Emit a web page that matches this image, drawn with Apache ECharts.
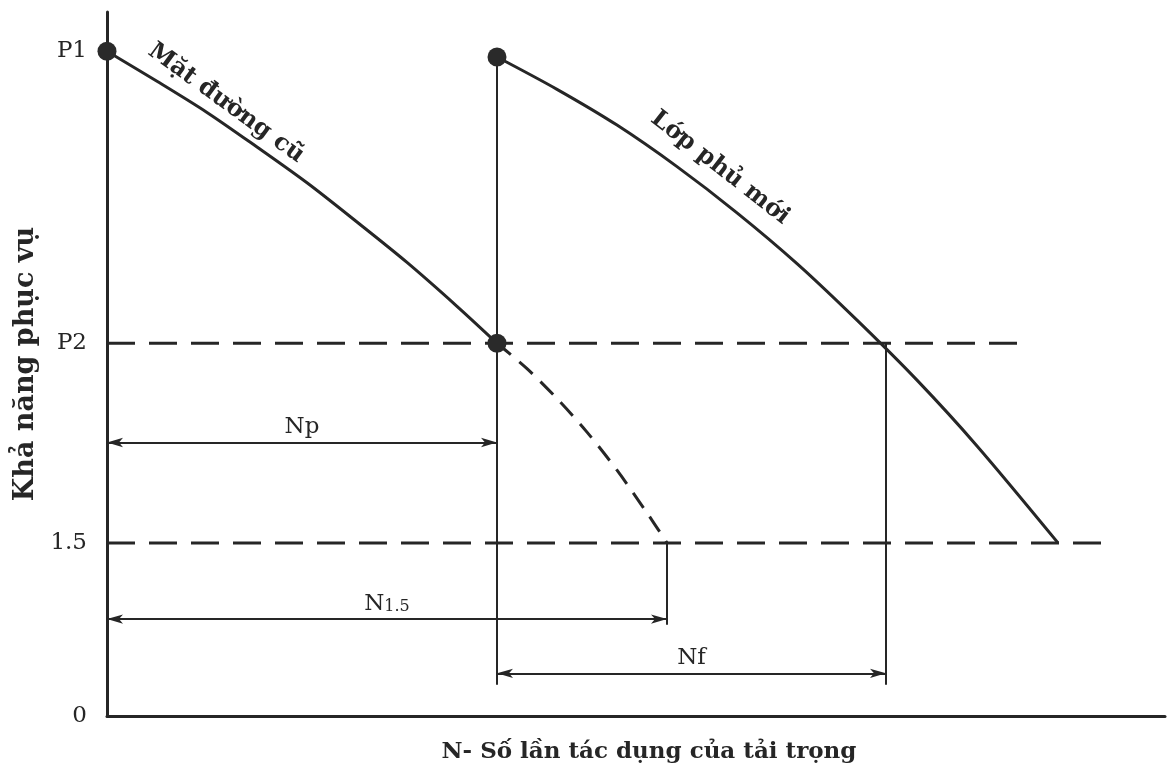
<!DOCTYPE html>
<html>
<head>
    <meta charset="utf-8">
    <title>Khả năng phục vụ</title>
    <script src="https://cdn.jsdelivr.net/npm/echarts@6/dist/echarts.min.js"></script>
</head>
<body style="margin:0;background:#fff;">
<style type="text/css">
.chart_box{width: 1168px; height: 778px;}
</style>
    <div class="chart_box" id="chart"></div>
    <script type="text/javascript">
        // du lieu doc tu hinh (don vi tuy y, 0 va 1.5 la moc)
        var yTickValues = [0, 1.5, 3.23, 5.76];
        var yTickLabels = ['0', '1.5', 'P2', 'P1'];
        var oldCurve = [[0, 5.76], [5, 5.50], [10, 5.23], [15, 4.93], [20, 4.62], [25, 4.28], [30, 3.93], [35, 3.55], [39, 3.23]];
        var oldCurveExt = [[39, 3.23], [42, 3.01], [45, 2.75], [48, 2.46], [51, 2.13], [54, 1.76], [56, 1.5]];
        var newCurve = [[39, 5.71], [45, 5.43], [51, 5.12], [57, 4.76], [63, 4.36], [69, 3.92], [75, 3.43], [81, 2.91], [87, 2.34], [95.1, 1.5]];
        var dots = [[0, 5.76], [39, 3.23], [39, 5.71]];
        var levelP2 = [[0, 3.23], [91, 3.23]];
        var level15 = [[0, 1.5], [99.8, 1.5]];
        var dimNames = ['Np', 'N1.5', 'Nf'];
        var dimFrom = [[0, 2.37], [0, 0.84], [39, 0.37]];
        var dimTo = [[39, 2.37], [56, 0.84], [77.9, 0.37]];
        var guideFrom = [[39, 5.71], [56, 1.5], [77.9, 3.23]];
        var guideTo = [[39, 0.27], [56, 0.79], [77.9, 0.27]];
        var curveNames = ['Mặt đường cũ', 'Lớp phủ mới'];
        var curveNamePos = [[11.9, 5.31], [61.3, 4.75]];
        var curveNameAngle = [-36, -38];

        var ink = '#262626';
        var font = 'DejaVu Serif';

        var dimLines = [];
        for (var i = 0; i < dimNames.length; i++) {
            var txt = dimNames[i] == 'N1.5' ? '{a|N}{b|1.5}' : '{a|' + dimNames[i] + '}';
            dimLines.push([{coord: dimFrom[i], label: {formatter: txt}}, {coord: dimTo[i]}]);
        }
        var guideLines = [];
        for (var i = 0; i < guideFrom.length; i++) {
            guideLines.push([{coord: guideFrom[i]}, {coord: guideTo[i]}]);
        }
        var nameData = [];
        for (var i = 0; i < curveNames.length; i++) {
            nameData.push({value: curveNamePos[i], name: curveNames[i], label: {rotate: curveNameAngle[i]}});
        }

        var chart = echarts.init(document.getElementById('chart'));
        chart.setOption({
            backgroundColor: '#fff',
            animation: false,
            grid: {left: 107, right: 3, top: 12, bottom: 62},
            xAxis: {
                type: 'value', min: 0, max: 105.8,
                name: 'N- Số lần tác dụng của tải trọng',
                nameLocation: 'middle', nameGap: 25,
                nameTextStyle: {fontFamily: font, fontSize: 23, fontWeight: 'bold', color: ink, padding: [0, 0, 0, 26]},
                axisLine: {lineStyle: {color: ink, width: 3}},
                axisTick: {show: false}, axisLabel: {show: false}, splitLine: {show: false}
            },
            yAxis: {
                type: 'value', min: 0, max: 6.1,
                name: 'Khả năng phục vụ',
                nameLocation: 'middle', nameGap: 65, nameRotate: 90,
                nameTextStyle: {fontFamily: font, fontSize: 27, fontWeight: 'bold', color: ink},
                axisLine: {lineStyle: {color: ink, width: 3}},
                axisTick: {show: false},
                splitLine: {show: false},
                axisLabel: {
                    customValues: yTickValues,
                    margin: 20,
                    fontFamily: font, fontSize: 23, color: ink,
                    formatter: function (v) {
                        var k = yTickValues.indexOf(v);
                        return k >= 0 ? yTickLabels[k] : '';
                    }
                }
            },
            series: [
                {
                    name: 'P2', type: 'line', data: levelP2, symbol: 'none',
                    lineStyle: {color: ink, width: 3, type: [28, 14]}
                },
                {
                    name: '1.5', type: 'line', data: level15, symbol: 'none',
                    lineStyle: {color: ink, width: 3, type: [28, 14]}
                },
                {
                    name: 'Mặt đường cũ', type: 'line', data: oldCurve, smooth: 0.3, symbol: 'none',
                    lineStyle: {color: ink, width: 3}
                },
                {
                    name: 'kéo dài', type: 'line', data: oldCurveExt, smooth: 0.3, symbol: 'none',
                    lineStyle: {color: ink, width: 3, type: [18, 11]}
                },
                {
                    name: 'Lớp phủ mới', type: 'line', data: newCurve, smooth: 0.3, symbol: 'none',
                    lineStyle: {color: ink, width: 3}
                },
                {
                    name: 'kích thước', type: 'line', data: [],
                    markLine: {
                        silent: true, symbol: ['arrow', 'arrow'], symbolSize: [7, 16],
                        lineStyle: {color: ink, width: 2, type: 'solid'},
                        label: {
                            position: 'middle', distance: 4, color: ink,
                            rich: {
                                a: {fontFamily: font, fontSize: 23, color: ink},
                                b: {fontFamily: font, fontSize: 16, color: ink, verticalAlign: 'bottom'}
                            }
                        },
                        data: dimLines
                    }
                },
                {
                    name: 'dóng', type: 'line', data: [],
                    markLine: {
                        silent: true, symbol: ['none', 'none'],
                        lineStyle: {color: ink, width: 2, type: 'solid'},
                        label: {show: false},
                        data: guideLines
                    }
                },
                {
                    name: 'điểm', type: 'scatter', data: dots, symbolSize: 19,
                    itemStyle: {color: '#2a2a2a', opacity: 1}, z: 5
                },
                {
                    name: 'tên đường', type: 'scatter', data: nameData, symbolSize: 0,
                    itemStyle: {opacity: 1},
                    label: {
                        show: true, position: 'inside', opacity: 1,
                        fontFamily: font, fontSize: 24, fontWeight: 'bold', color: ink,
                        formatter: '{b}'
                    }
                }
            ]
        });
    </script>
</body>
</html>
